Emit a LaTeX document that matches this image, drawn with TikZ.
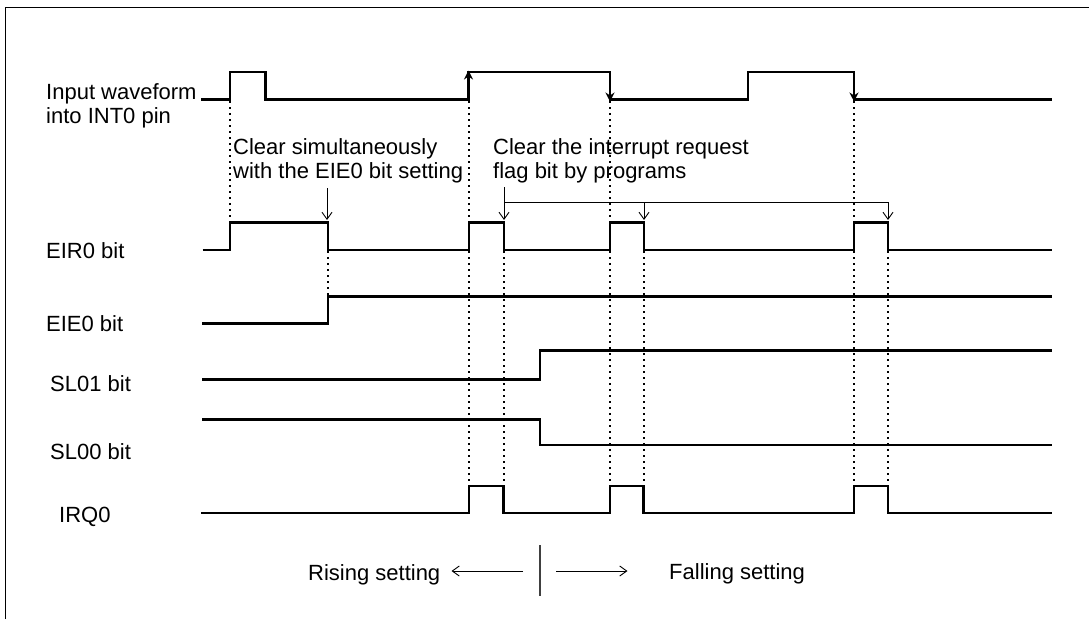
\documentclass[tikz,border=0pt]{standalone}
\usepackage{fontspec}
\setmainfont{Liberation Sans}
\usetikzlibrary{arrows.meta}
\begin{document}
\begin{tikzpicture}[x=1pt,y={(0pt,-1pt)},
  wave/.style={line width=2.5pt, line join=miter},
  dots/.style={line width=1.8pt, dash pattern=on 1.8pt off 4.2pt},
  lbl/.style={anchor=base west, inner sep=0pt, font=\fontsize{22}{25}\selectfont},
  note/.style={line width=0.9pt, -{Straight Barb[length=7pt,width=10pt]}},
  edgearrow/.style={line width=2.5pt, -{Stealth[length=9pt,width=9pt]}},
  frame/.style={line width=1.5pt},
  divider/.style={line width=1.2pt, black!75}]
\useasboundingbox (0,0) rectangle (1089,619);
\draw[frame] (5.5,619) -- (5.5,7.5) -- (1089,7.5);

% labels
\node[lbl] (lin1) at (46,99) {Input waveform};
\node[lbl] (lin2) at (46,123) {into INT0 pin};
\node[lbl] (leir) at (46,258) {EIR0 bit};
\node[lbl] (leie) at (46,331) {EIE0 bit};
\node[lbl] (lsl1) at (50,391) {SL01 bit};
\node[lbl] (lsl0) at (50,459) {SL00 bit};
\node[lbl] (lirq) at (59,522) {IRQ0};

% waveforms
\draw[wave] (201,99.5) -- (230,99.5) -- (230,72) -- (265.5,72) -- (265.5,99.5) -- (468.5,99.5) -- (468.5,72) -- (610,72) -- (610,99.5) -- (748,99.5) -- (748,72) -- (854,72) -- (854,99.5) -- (1052,99.5);
\draw[wave] (202.5,250) -- (230,250) -- (230,222.5) -- (328,222.5) -- (328,250) -- (469,250) -- (469,222.5) -- (504,222.5) -- (504,250) -- (610,250) -- (610,222.5) -- (644,222.5) -- (644,250) -- (854,250) -- (854,222.5) -- (888,222.5) -- (888,250) -- (1052,250);
\draw[wave] (202,323.3) -- (328,323.3) -- (328,296.5) -- (1052,296.5);
\draw[wave] (202,379.5) -- (540,379.5) -- (540,350.7) -- (1052,350.7);
\draw[wave] (202,419.3) -- (540,419.3) -- (540,445) -- (1052,445);
\draw[wave] (201,513) -- (469,513) -- (469,486) -- (503.5,486) -- (503.5,513) -- (610,513) -- (610,486) -- (643.5,486) -- (643.5,513) -- (854,513) -- (854,486) -- (888,486) -- (888,513) -- (1052,513);

% edge arrows on input waveform
\coordinate (r1a) at (468.5,92); \coordinate (r1b) at (468.5,70.5);
\coordinate (f1a) at (610,80);  \coordinate (f1b) at (610,101.5);
\coordinate (f2a) at (854,80);  \coordinate (f2b) at (854,101.5);
\draw[edgearrow] (r1a) -- (r1b);
\draw[edgearrow] (f1a) -- (f1b);
\draw[edgearrow] (f2a) -- (f2b);

% dotted guides
\draw[dots] (230,101) -- (230,222);
\draw[dots] (328,251) -- (328,296);
\draw[dots] (469,101) -- (469,486);
\draw[dots] (504,251) -- (504,486);
\draw[dots] (610,101) -- (610,486);
\draw[dots] (644,251) -- (644,486);
\draw[dots] (854,101) -- (854,486);
\draw[dots] (888,251) -- (888,486);

% annotations
\node[lbl] (c1a) at (233,154) {Clear simultaneously};
\node[lbl] (c1b) at (233,178.5) {with the EIE0 bit setting};
\node[lbl] (c2a) at (493,154) {Clear the interrupt request};
\node[lbl] (c2b) at (493,178.5) {flag bit by programs};

\coordinate (a1s) at (327,188); \coordinate (a1e) at (327,220);
\draw[note] (a1s) -- (a1e);
\coordinate (a2s) at (504,187); \coordinate (a2e) at (504,220);
\draw[note] (a2s) -- (a2e);
\coordinate (b0) at (505,202.3); \coordinate (b1) at (888,202.3);
\coordinate (b2) at (888,220);
\draw[note] (b0) -- (b1) -- (b2);
\coordinate (b3) at (644,202.3); \coordinate (b4) at (644,220);
\draw[note] (b3) -- (b4);

% bottom legend
\coordinate (d1) at (540,545); \coordinate (d2) at (540,596);
\draw[divider] (d1) -- (d2);
\coordinate (la) at (523,571); \coordinate (lb) at (451.5,571);
\draw[note] (la) -- (lb);
\coordinate (ra) at (556,571); \coordinate (rb) at (627.5,571);
\draw[note] (ra) -- (rb);
\node[lbl] (rise) at (308,580) {Rising setting};
\node[lbl] (fall) at (669,579) {Falling setting};
\end{tikzpicture}
\end{document}
